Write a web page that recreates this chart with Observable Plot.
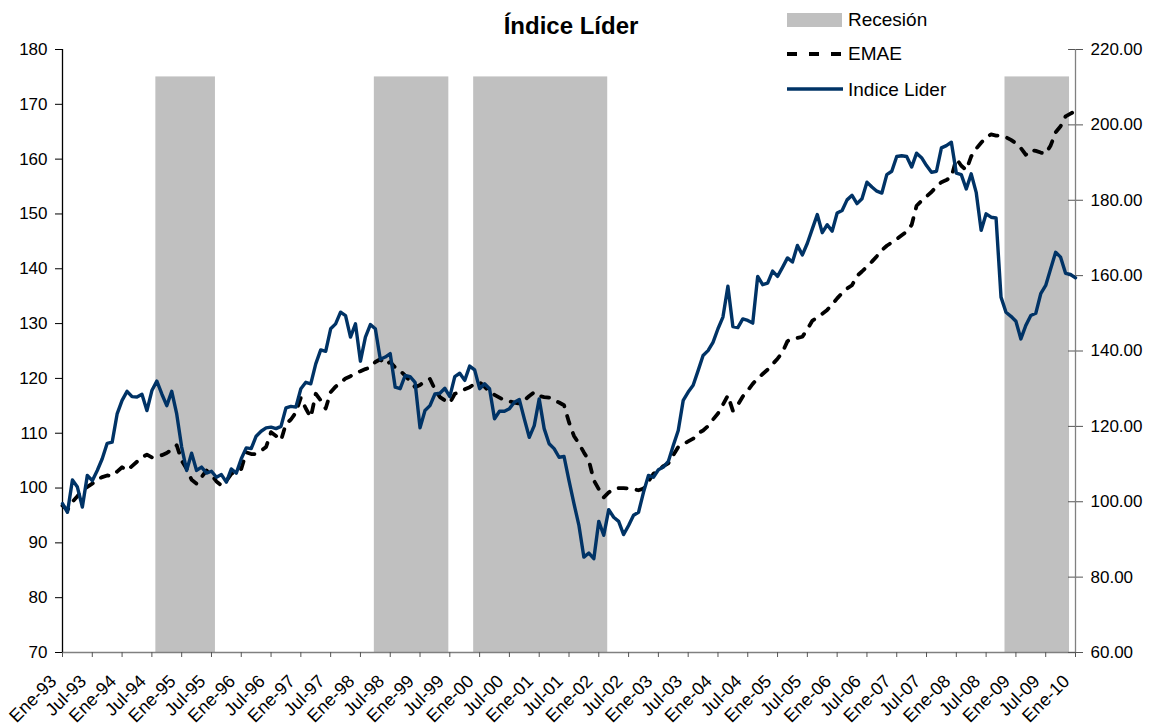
<!DOCTYPE html>
<html>
<head>
<meta charset="utf-8">
<script src="https://cdn.jsdelivr.net/npm/d3@7"></script>
<script src="https://cdn.jsdelivr.net/npm/@observablehq/plot@0.6"></script>
<style>
  body { margin: 0; background: #fff; }
  #wrap { position: relative; width: 1159px; height: 728px; font-family: "Liberation Sans", Arial, sans-serif; color: #000; overflow: hidden; }
  #title { position: absolute; left: 571px; top: 12px; transform: translateX(-50%); font-size: 24px; font-weight: bold; white-space: nowrap; }
  .leg { position: absolute; left: 848px; font-size: 19px; line-height: 22px; white-space: nowrap; }
  #legsvg { position: absolute; left: 780px; top: 0; }
  #chart { position: absolute; left: 0; top: 0; }
</style>
</head>
<body>
<div id="wrap">
  <div id="chart"></div>
  <div id="title">Índice Líder</div>
  <svg id="legsvg" width="70" height="110">
    <rect x="7" y="13" width="55" height="14" fill="#c0c0c0"></rect>
    <line x1="7" x2="63" y1="54" y2="54" stroke="#000" stroke-width="3.8" stroke-dasharray="10,12"></line>
    <line x1="7" x2="63" y1="89" y2="89" stroke="#003366" stroke-width="3.4"></line>
  </svg>
  <div class="leg" style="top:9px">Recesión</div>
  <div class="leg" style="top:43px">EMAE</div>
  <div class="leg" style="top:79px">Indice Lider</div>
</div>
<script>
// Spanish month abbreviations and years (categories)
const meses = ["Ene","Feb","Mar","Abr","May","Jun","Jul","Ago","Sep","Oct","Nov","Dic"];
const anios = d3.range(1993, 2011);

// x-axis tick labels (every 6 months)
const tickLabels = ["Ene-93","Jul-93","Ene-94","Jul-94","Ene-95","Jul-95","Ene-96","Jul-96","Ene-97","Jul-97",
  "Ene-98","Jul-98","Ene-99","Jul-99","Ene-00","Jul-00","Ene-01","Jul-01","Ene-02","Jul-02",
  "Ene-03","Jul-03","Ene-04","Jul-04","Ene-05","Jul-05","Ene-06","Jul-06","Ene-07","Jul-07",
  "Ene-08","Jul-08","Ene-09","Jul-09","Ene-10"];

// EMAE (left axis), monthly Ene-93 .. Ene-10
const emae = [
  96.8,96.0,97.5,98.5,99.6,100.2,100.8,101.6,102.0,102.3,
  102.2,103.0,103.8,103.2,104.0,104.8,105.6,106.1,105.6,105.8,
  106.0,106.4,107.0,107.8,105.0,103.5,101.5,100.8,102.0,103.2,
  102.4,101.2,100.5,101.3,102.6,103.0,103.5,106.5,106.2,106.2,
  106.8,107.5,110.2,109.5,108.7,111.7,112.5,113.8,116.5,114.5,
  112.9,117.2,116.0,114.5,117.5,118.5,119.2,120.0,120.4,121.0,
  121.3,121.7,122.0,123.0,123.5,122.5,123.0,122.0,121.4,120.5,
  119.5,118.4,118.8,119.5,119.9,118.0,116.6,116.0,115.5,117.2,
  117.5,118.0,118.4,119.0,119.3,118.5,117.5,117.0,116.5,116.0,
  115.8,115.6,115.4,116.0,116.8,117.5,116.8,116.6,116.5,116.0,
  115.6,115.1,112.0,109.5,108.1,106.5,105.0,101.4,99.8,98.3,
  99.2,99.8,100.0,100.0,99.9,99.8,99.6,99.9,101.2,102.6,
  103.3,104.0,104.5,106.0,107.5,108.0,108.5,109.0,110.0,110.5,
  111.3,112.5,113.6,115.2,116.9,114.1,115.2,116.7,117.8,119.0,
  120.0,120.8,121.6,122.6,123.6,124.8,126.8,127.2,127.4,127.6,
  129.0,130.5,131.2,131.8,132.5,133.5,134.6,135.6,136.4,137.0,
  138.7,139.5,140.4,141.3,142.3,143.4,144.2,144.8,145.4,146.1,
  146.8,148.0,151.5,152.4,153.2,154.0,155.0,155.8,156.2,156.7,
  160.1,158.8,158.0,160.5,161.9,163.0,164.0,164.5,164.3,164.3,
  164.0,163.5,162.9,162.0,160.8,161.7,161.5,161.2,161.0,162.5,
  164.9,166.0,167.8,168.3,168.8
];

// Indice Lider (right axis), monthly Ene-93 .. Ene-10
const lider = [
  99.5,97.2,105.8,103.9,98.6,107.0,105.6,108.3,111.4,115.5,
  115.8,123.3,126.9,129.3,127.9,127.8,128.5,124.2,129.5,132.0,
  128.6,125.5,129.3,123.3,114.5,108.3,112.9,108.3,109.2,107.6,
  108.1,106.5,107.2,105.2,108.7,107.6,111.4,114.3,114.1,117.4,
  118.7,119.6,119.8,119.4,120.0,124.9,125.3,125.1,130.0,131.7,
  131.3,136.6,140.3,139.9,145.9,147.2,150.3,149.4,143.7,147.2,
  137.3,143.7,147.0,145.9,137.8,138.4,139.3,130.4,130.0,133.5,
  133.2,131.7,119.6,124.2,125.5,128.6,128.8,130.1,127.9,133.2,
  134.1,132.2,136.0,135.0,130.0,131.3,130.0,122.0,124.0,124.0,
  124.7,126.4,127.1,122.0,117.1,120.2,127.3,119.4,115.4,114.1,
  111.8,112.0,105.6,99.5,93.7,85.3,86.4,84.9,94.8,91.1,
  97.9,95.9,94.8,91.3,93.7,96.4,97.2,102.5,107.0,106.5,
  108.5,109.2,110.7,114.9,118.9,126.9,129.1,130.9,134.8,138.8,
  140.1,142.3,145.9,149.0,157.2,146.5,146.2,148.5,148.1,147.4,
  159.8,157.6,158.0,161.2,159.8,162.2,164.7,163.6,168.0,165.5,
  168.6,172.4,176.2,171.4,173.5,171.8,176.6,177.3,180.1,181.3,
  179.1,180.4,184.8,183.5,182.4,181.9,186.8,187.7,191.6,191.8,
  191.6,188.8,192.5,191.3,189.2,187.4,187.7,193.9,194.5,195.4,
  187.2,186.8,183.0,187.0,182.1,172.0,176.4,175.5,175.3,154.3,
  150.3,149.2,147.9,143.2,146.8,149.4,150.0,155.2,157.4,161.8,
  166.2,164.9,160.6,160.3,159.4
];

// Recession periods (first and last month)
const recInicio = ["Ago-94","Abr-98","Dic-99","Nov-08"];
const recFin    = ["Jul-95","Jun-99","Feb-02","Nov-09"];

// Axis tick values
const leftTicks = [70,80,90,100,110,120,130,140,150,160,170,180];
const rightTicks = [60,80,100,120,140,160,180,200,220];

// --- build ---
const monthLabels = [];
anios.forEach(y => meses.forEach(m => monthLabels.push(m + "-" + String(y).slice(2))));
const idx = lbl => monthLabels.indexOf(lbl);

const L0 = 70, L1 = 180, R0 = 60, R1 = 220;
const toLeft = v => L0 + (v - R0) * (L1 - L0) / (R1 - R0);
const toRight = v => R0 + (v - L0) * (R1 - R0) / (L1 - L0);

const emaeData = emae.map((v, i) => ({i, v}));
const liderData = lider.map((v, i) => ({i, v: toLeft(v)}));
const recData = recInicio.map((s, k) => ({s: idx(s), e: idx(recFin[k])}));
const nLast = emae.length - 1;
const rightTickData = rightTicks.map(toLeft);
const xTickData = tickLabels.map(l => ({i: idx(l), l}));

const font = "Liberation Sans, Arial, sans-serif";
const chart = Plot.plot({
  width: 1159,
  height: 728,
  marginLeft: 62,
  marginRight: 84,
  marginTop: 49,
  marginBottom: 76,
  style: { fontFamily: font, fontSize: "17px", color: "#000", background: "#fff" },
  x: { type: "linear", domain: [0, nLast], axis: null, label: null },
  y: { type: "linear", domain: [L0, L1], axis: null, label: null },
  marks: [
    Plot.rect(recData, { x1: d => d.s - 0.2, x2: d => d.e + 0.8, y1: L0, y2: 175, fill: "#c0c0c0" }),
    Plot.ruleY([L0], { stroke: "#808080", strokeWidth: 1.3 }),
    Plot.ruleX([nLast], { stroke: "#808080", strokeWidth: 1.3 }),
    Plot.ruleX([0], { stroke: "#000", strokeWidth: 1.3 }),
    Plot.axisX({
      ticks: xTickData.map(d => d.i),
      tickFormat: () => "",
      tickSize: 5, stroke: "#555", label: null
    }),
    // rotated month labels: anchor placed ~9px left of and ~26px below each tick
    Plot.text(xTickData, {
      x: d => d.i - 1.8, y: L0 - 4.7, text: "l", rotate: -45, textAnchor: "end", lineAnchor: "middle",
      fontSize: 18, fill: "#000"
    }),
    Plot.axisY({ anchor: "left", ticks: leftTicks, tickSize: 7, tickPadding: 8, stroke: "#000", fontSize: "17px", label: null }),
    Plot.axisY({
      anchor: "right", ticks: rightTickData,
      tickFormat: d => toRight(d).toFixed(2),
      tickSize: 7, tickPadding: 8, stroke: "#555", fontSize: "17px", label: null
    }),
    Plot.ruleY(rightTickData, { x1: nLast - 1.4, x2: nLast, stroke: "#555", strokeWidth: 1 }),
    Plot.line(emaeData, { x: "i", y: "v", stroke: "#000", strokeWidth: 3.8, strokeDasharray: "8,10" }),
    Plot.line(liderData, { x: "i", y: "v", stroke: "#003366", strokeWidth: 3.4, strokeLinejoin: "round" })
  ]
});
document.getElementById("chart").appendChild(chart);
</script>
</body>
</html>
